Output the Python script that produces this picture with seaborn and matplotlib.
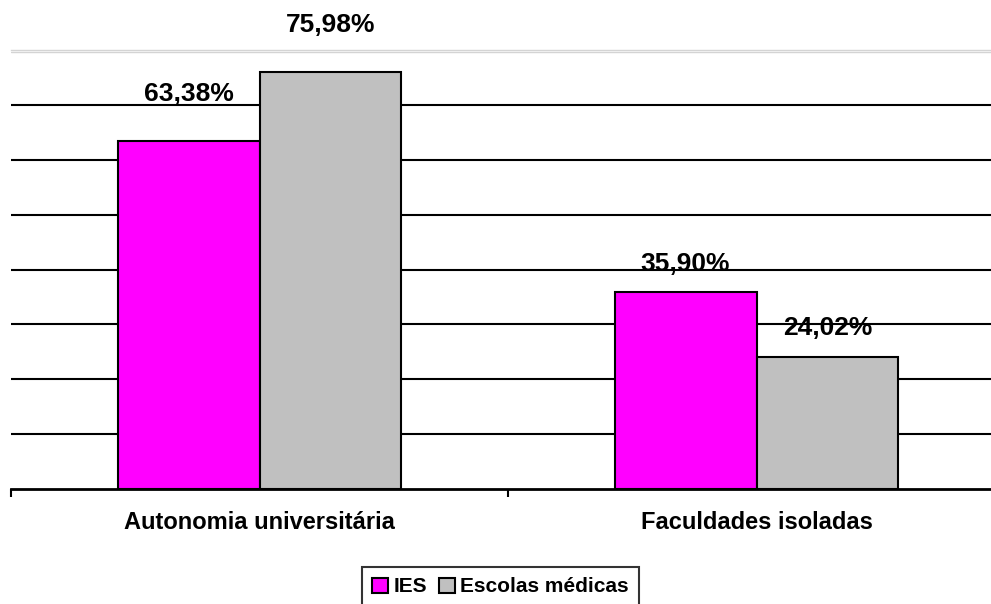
import matplotlib
matplotlib.use("Agg")
import matplotlib.pyplot as plt
from matplotlib.patches import Patch
import seaborn as sns
import pandas as pd

categorias = ["Autonomia universitária", "Faculdades isoladas"]
series = ["IES", "Escolas médicas"]
ies = [63.38, 35.90]
escolas_medicas = [75.98, 24.02]
cores = ["#FF00FF", "#C0C0C0"]

df = pd.DataFrame({
    "categoria": categorias * 2,
    "serie": [series[0]] * 2 + [series[1]] * 2,
    "valor": ies + escolas_medicas,
})

sns.set_style("white")
plt.rcParams["font.family"] = ["Liberation Sans", "DejaVu Sans"]
plt.rcParams["font.weight"] = "bold"
plt.rcParams["text.color"] = "black"
plt.rcParams["xtick.color"] = "black"
plt.rcParams["xtick.labelcolor"] = "black"

fig = plt.figure(figsize=(9.91, 6.04), dpi=100)
ax = fig.add_axes([11 / 991, 115 / 604, 994 / 991, 439 / 604])

sns.barplot(data=df, x="categoria", y="valor", hue="serie", hue_order=series,
            order=categorias, palette=cores, saturation=1, edgecolor="black",
            linewidth=1.5, width=0.571, ax=ax, legend=False, zorder=3)

ax.set_xlim(-0.5, 1.5)
ax.set_ylim(0, 80)

# horizontal grid lines
for y in range(10, 80, 10):
    ax.axhline(y, color="black", linewidth=1.5, zorder=1)

for side in ["left", "right"]:
    ax.spines[side].set_visible(False)
ax.spines["top"].set_color("#d4d4d4")
ax.spines["top"].set_linewidth(1.0)
ax.axhline(79.65, color="#d4d4d4", linewidth=1.0, zorder=1)
ax.spines["bottom"].set_color("black")
ax.spines["bottom"].set_linewidth(2.0)

ax.set_yticks([])
ax.set_xlabel("")
ax.set_ylabel("")
ax.set_xticks([0, 1])
ax.set_xticklabels(categorias, fontsize=17, fontweight="bold", color="black")
ax.tick_params(axis="x", which="major", length=0, pad=16)
ax.set_xticks([-0.5, 0.5, 1.5], minor=True)
ax.tick_params(axis="x", which="minor", bottom=True, length=6, width=1.5,
               color="black", direction="out")

# value labels above the bars
offsets = [[47, 28], [47, 29]]
for si, cont in enumerate(ax.containers):
    for ci, bar in enumerate(cont):
        v = bar.get_height()
        ax.annotate(f"{v:.2f}".replace(".", ",") + "%",
                    xy=(bar.get_x() + bar.get_width() / 2, v),
                    xytext=(0, offsets[si][ci]), textcoords="offset pixels",
                    ha="center", va="center", fontsize=19, fontweight="bold",
                    color="black", annotation_clip=False, zorder=5)

handles = [Patch(facecolor=c, edgecolor="black", linewidth=1.5) for c in cores]
leg = fig.legend(handles, series, loc="upper left",
                 bbox_to_anchor=(362 / 991, 1 - 567 / 604), ncol=2,
                 frameon=True, fancybox=False, edgecolor="black",
                 borderaxespad=0, handlelength=0.75, handleheight=0.75,
                 handletextpad=0.25, columnspacing=0.6, borderpad=0.5,
                 prop={"weight": "bold", "size": 15})
leg.get_frame().set_linewidth(1.5)

fig.savefig("out.png", dpi=100)
